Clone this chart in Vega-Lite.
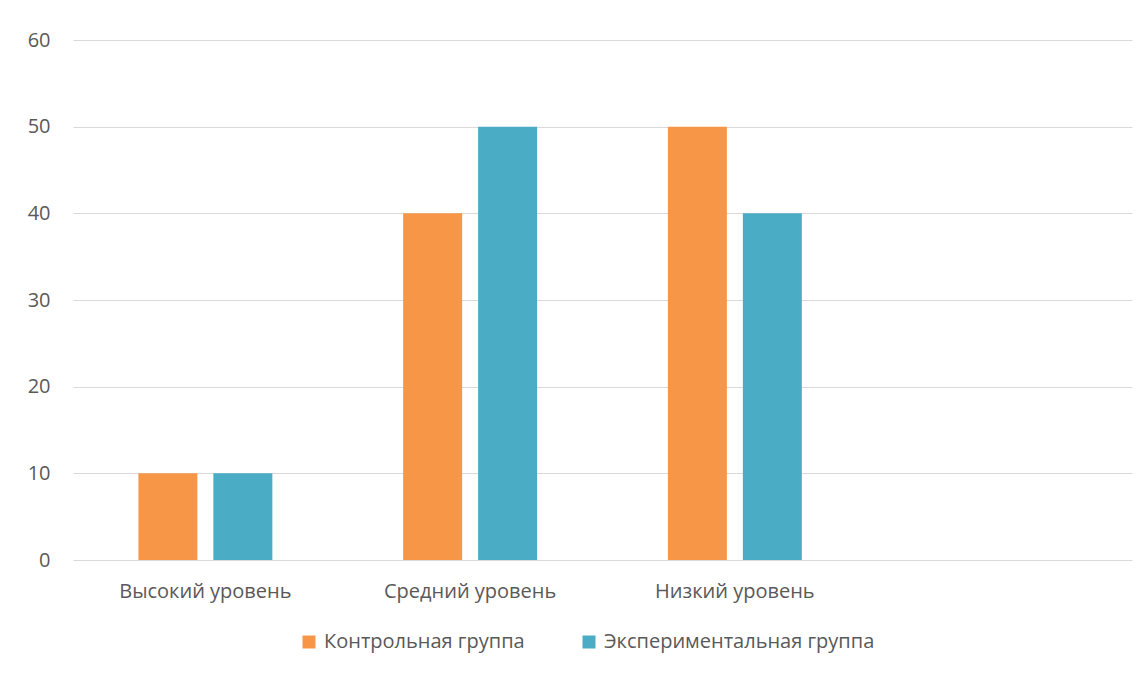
{
  "$schema": "https://vega.github.io/schema/vega-lite/v6.json",
  "autosize": "none",
  "width": 1059,
  "height": 520,
  "padding": {"left": 73, "top": 40, "right": 16, "bottom": 117},
  "background": "white",
  "config": {
    "view": {"stroke": null},
    "font": "Open Sans"
  },
  "data": {
    "values": [
      {"level": "Высокий уровень", "group": "Контрольная группа", "value": 10},
      {"level": "Высокий уровень", "group": "Экспериментальная группа", "value": 10},
      {"level": "Средний уровень", "group": "Контрольная группа", "value": 40},
      {"level": "Средний уровень", "group": "Экспериментальная группа", "value": 50},
      {"level": "Низкий уровень", "group": "Контрольная группа", "value": 50},
      {"level": "Низкий уровень", "group": "Экспериментальная группа", "value": 40}
    ]
  },
  "mark": {"type": "bar"},
  "encoding": {
    "x": {
      "field": "level",
      "type": "nominal",
      "sort": null,
      "scale": {"domain": ["Высокий уровень", "Средний уровень", "Низкий уровень", ""], "paddingInner": 0.494, "paddingOuter": 0.247},
      "axis": {"title": null, "labelAngle": 0, "domain": false, "ticks": false, "labelPadding": 21, "labelFontSize": 20, "labelColor": "#595959", "labelFont": "Open Sans"}
    },
    "xOffset": {
      "field": "group",
      "type": "nominal",
      "scale": {"paddingInner": 0.213, "paddingOuter": 0}
    },
    "y": {
      "field": "value",
      "type": "quantitative",
      "scale": {"domain": [0, 60]},
      "axis": {"title": null, "values": [0, 10, 20, 30, 40, 50, 60], "domain": false, "ticks": false, "labelPadding": 23, "labelFontSize": 20, "labelColor": "#595959", "gridColor": "#d9d9d9", "gridWidth": 1}
    },
    "color": {
      "field": "group",
      "type": "nominal",
      "scale": {"domain": ["Контрольная группа", "Экспериментальная группа"], "range": ["#F79646", "#4BACC6"]},
      "legend": {"title": null, "orient": "none", "legendX": 226, "legendY": 592, "direction": "horizontal", "symbolType": "square", "symbolSize": 169, "symbolStrokeWidth": 0, "labelFontSize": 20, "labelColor": "#595959", "labelLimit": 400, "columnPadding": 54, "labelOffset": 5, "padding": 0}
    }
  }
}
